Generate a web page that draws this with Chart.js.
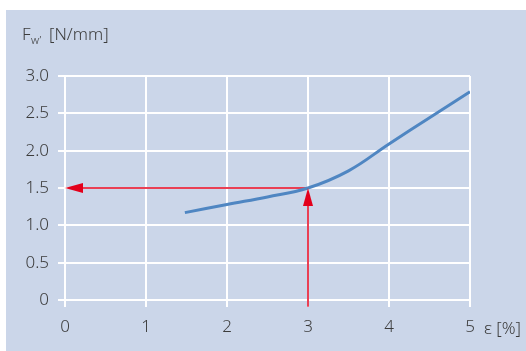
<!DOCTYPE html>
<html lang="en">
  <head>
    <meta charset="UTF-8" />
    <title>Fw' over strain</title>
    <script src="https://cdn.jsdelivr.net/npm/chart.js"></script>
    <style>
      html, body { margin: 0; padding: 0; background: #ffffff; }
      #chart { display: block; }
    </style>
  </head>
  <body>
    <canvas id="chart" width="526" height="351"></canvas>
    <script>
      // curve
      const strain = [1.48, 2, 2.5, 3, 3.5, 4, 4.5, 5];
      const force = [1.17, 1.28, 1.38, 1.5, 1.73, 2.09, 2.44, 2.79];
      // reading marker
      const markStrain = 3;
      const markForce = 1.5;
      const xTicks = [0, 1, 2, 3, 4, 5];
      const yTicks = [0, 0.5, 1, 1.5, 2, 2.5, 3];

      const panelColor = "#cbd6e9";
      const textColor = "#3c3c3c";
      const red = "#e3001b";
      const font = "'Noto Sans', 'Open Sans', sans-serif";

      const backdrop = {
        id: "backdrop",
        beforeDraw(chart) {
          const ctx = chart.ctx;
          ctx.save();
          ctx.fillStyle = panelColor;
          ctx.fillRect(6, 10, 520, 341);
          ctx.restore();
        },
      };

      const arrows = {
        id: "arrows",
        afterDatasetsDraw(chart) {
          const ctx = chart.ctx;
          const xs = chart.scales.x;
          const ys = chart.scales.y;
          const tipL = { x: xs.getPixelForValue(0), y: ys.getPixelForValue(markForce) };
          const tipU = { x: xs.getPixelForValue(markStrain), y: ys.getPixelForValue(markForce) };
          ctx.save();
          ctx.fillStyle = red;
          ctx.beginPath();
          ctx.moveTo(tipL.x, tipL.y);
          ctx.lineTo(tipL.x + 18, tipL.y - 5);
          ctx.lineTo(tipL.x + 18, tipL.y + 5);
          ctx.closePath();
          ctx.fill();
          ctx.beginPath();
          ctx.moveTo(tipU.x, tipU.y);
          ctx.lineTo(tipU.x - 5, tipU.y + 18);
          ctx.lineTo(tipU.x + 5, tipU.y + 18);
          ctx.closePath();
          ctx.fill();

          // axis titles
          ctx.fillStyle = textColor;
          ctx.textBaseline = "alphabetic";
          ctx.textAlign = "left";
          ctx.font = "300 17px " + font;
          ctx.fillText("F", 22, 40);
          ctx.font = "300 11px " + font;
          ctx.fillText("w\u2019", 31, 44);
          ctx.font = "300 17px " + font;
          ctx.fillText("[N/mm]", 49, 40);
          ctx.fillText("\u03b5 [%]", 484, 334);
          ctx.restore();
        },
      };

      new Chart(document.getElementById("chart"), {
        type: "line",
        data: {
          datasets: [
            {
              data: strain.map((s, i) => ({ x: s, y: force[i] })),
              borderColor: "#4f86c2",
              borderWidth: 3,
              pointRadius: 0,
              tension: 0.4,
            },
            {
              data: [
                { x: markStrain, y: markForce },
                { x: 0.2, y: markForce },
              ],
              borderColor: red,
              borderWidth: 1.5,
              pointRadius: 0,
            },
            {
              data: [
                { x: markStrain, y: -0.09 },
                { x: markStrain, y: markForce - 0.2 },
              ],
              borderColor: red,
              borderWidth: 1.5,
              pointRadius: 0,
              clip: false,
            },
          ],
        },
        options: {
          responsive: false,
          animation: false,
          devicePixelRatio: 1,
          layout: { padding: { left: 0, right: 56, top: 76, bottom: 0 } },
          plugins: { legend: { display: false }, tooltip: { enabled: false } },
          scales: {
            x: {
              type: "linear",
              min: 0,
              max: 5,
              afterFit: (s) => { s.height = 51; },
              afterBuildTicks: (s) => { s.ticks = xTicks.map((v) => ({ value: v })); },
              grid: { color: "#ffffff", lineWidth: 2, tickLength: 7, tickColor: "#ffffff" },
              border: { display: false },
              ticks: {
                padding: 10,
                color: textColor,
                font: { family: font, size: 17, weight: "300" },
                maxRotation: 0,
              },
            },
            y: {
              min: 0,
              max: 3,
              afterFit: (s) => { s.width = 65; },
              afterBuildTicks: (s) => { s.ticks = yTicks.map((v) => ({ value: v })); },
              grid: { color: "#ffffff", lineWidth: 2, tickLength: 7, tickColor: "#ffffff" },
              border: { display: false },
              ticks: {
                padding: 9,
                color: textColor,
                font: { family: font, size: 17, weight: "300" },
                callback: (v) => (v === 0 ? "0" : v.toFixed(1)),
              },
            },
          },
        },
        plugins: [backdrop, arrows],
      });
    </script>
  </body>
</html>
